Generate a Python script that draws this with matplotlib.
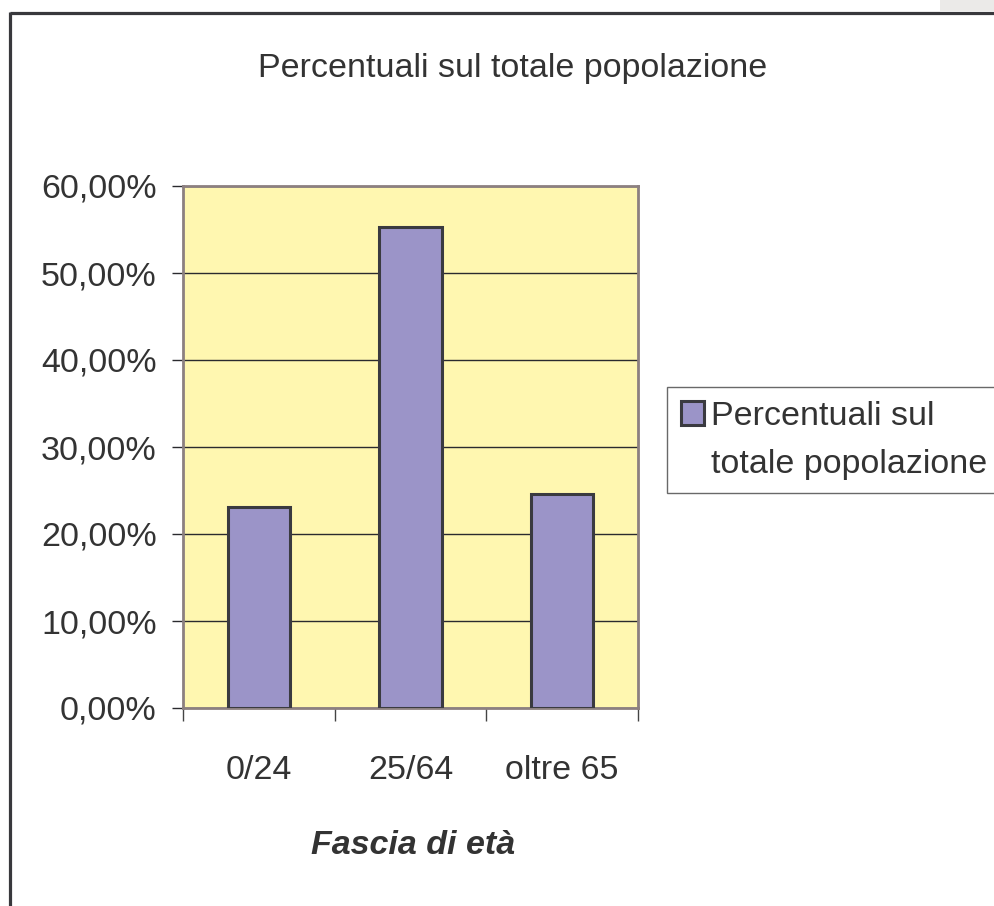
import matplotlib
matplotlib.use("Agg")
import matplotlib.pyplot as plt
from matplotlib.patches import Rectangle
from matplotlib.lines import Line2D
from matplotlib.ticker import FuncFormatter, FixedLocator

categories = ["0/24", "25/64", "oltre 65"]
values = [0.231, 0.553, 0.246]
series_label_lines = ["Percentuali sul", "totale popolazione"]
title = "Percentuali sul totale popolazione"
xlabel = "Fascia di età"
yticks = [0.0, 0.1, 0.2, 0.3, 0.4, 0.5, 0.6]

W, H = 995, 906
plt.rcParams['font.family'] = ['Liberation Sans', 'DejaVu Sans']
TXT = '#333333'
FS = 24.5

fig = plt.figure(figsize=(W / 100, H / 100), dpi=100)
fig.patch.set_facecolor('white')

# outer frame / grey corner
fig.add_artist(Rectangle((940 / W, 1 - 11 / H), 55 / W, 11 / H, transform=fig.transFigure,
                         facecolor='#ebeae8', edgecolor='none', zorder=0))
fig.add_artist(Line2D([9.5 / W, 1.0], [1 - 12.5 / H, 1 - 12.5 / H], transform=fig.transFigure,
                      color='#38383c', lw=2.3, solid_capstyle='butt'))
fig.add_artist(Line2D([9.5 / W, 9.5 / W], [0, 1 - 11.5 / H], transform=fig.transFigure,
                      color='#38383c', lw=2.3, solid_capstyle='butt'))

left, right, top, bottom = 183, 638, 186, 708
ax = fig.add_axes([left / W, 1 - bottom / H, (right - left) / W, (bottom - top) / H])
ax.set_facecolor('#fff7b0')

x = list(range(len(categories)))
bars = ax.bar(x, values, width=0.41, color='#9b94c8', edgecolor='#3a3a40', linewidth=2.2,
              label=" ".join(series_label_lines), zorder=3)

ax.set_xlim(-0.5, len(categories) - 0.5)
ax.set_ylim(0, 0.6)
ax.yaxis.set_major_locator(FixedLocator(yticks))
ax.yaxis.set_major_formatter(FuncFormatter(lambda v, p: f"{v * 100:.2f}%".replace('.', ',')))
ax.grid(axis='y', color='#2a2a2e', lw=1.0, zorder=1)
ax.set_axisbelow(True)

ax.xaxis.set_major_locator(FixedLocator([i - 0.5 for i in range(len(categories) + 1)]))
ax.xaxis.set_major_formatter(FuncFormatter(lambda v, p: ""))
ax.set_xticks(x, minor=True)
ax.set_xticklabels(categories, minor=True)
ax.tick_params(axis='x', which='major', length=9, width=1.0, color='#444444', direction='out')
ax.tick_params(axis='x', which='minor', length=0, pad=34, labelsize=FS, labelcolor=TXT)
ax.tick_params(axis='y', which='major', length=8, width=1.0, color='#2a2a2e', pad=11,
               labelsize=FS, labelcolor=TXT)

for s in ['left', 'top', 'right', 'bottom']:
    ax.spines[s].set_color('#8c8080')
    ax.spines[s].set_linewidth(2.0)

ax.set_xlabel(xlabel, fontsize=FS, fontweight='bold', fontstyle='italic', color=TXT, va='center')
ax.xaxis.set_label_coords((413 - left) / (right - left), -(845 - bottom) / (bottom - top))

fig.text(513 / W, 1 - 69 / H, title, ha='center', va='center', fontsize=FS, color=TXT)

blank = Rectangle((0, 0), 1, 1, facecolor='none', edgecolor='none')
leg = fig.legend(handles=[bars, blank], labels=series_label_lines, loc='upper left',
                 bbox_to_anchor=(667 / W, 1 - 387 / H), borderaxespad=0, fontsize=FS,
                 frameon=True, fancybox=False, edgecolor='#444444', handlelength=0.7,
                 handleheight=0.7, handletextpad=0.2, borderpad=0.4, labelspacing=0.5)
leg.get_frame().set_linewidth(1.0)
for t in leg.get_texts():
    t.set_color(TXT)

fig.savefig('out.png', dpi=100)
